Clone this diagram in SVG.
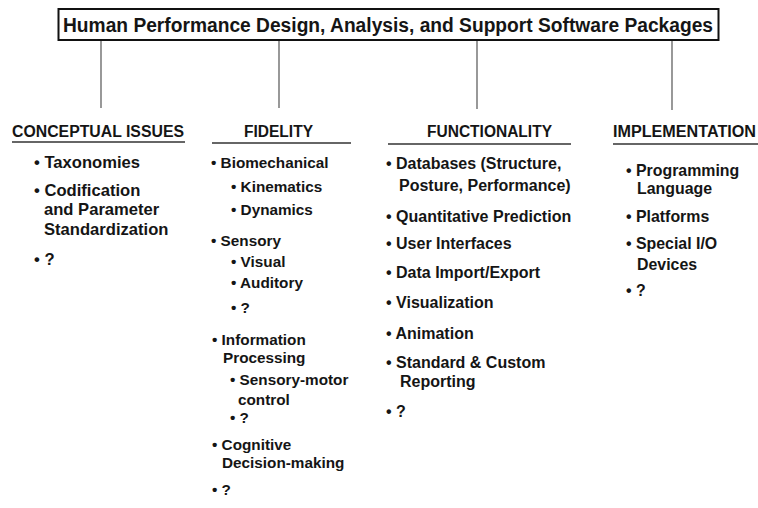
<svg xmlns="http://www.w3.org/2000/svg" width="758" height="508" viewBox="0 0 758 508">
<style>
text{font-family:"Liberation Sans",Arial,Helvetica,sans-serif;font-weight:bold;fill:#151515}
.t{font-size:19.5px}
.h{font-size:15.8px}
.i{font-size:15.5px}
#conceptual .i{font-size:16.6px}
#fidelity .i{font-size:15.3px}
#functionality .i{font-size:16px}
#implementation .i{font-size:15.9px}
.ul{stroke:#333;stroke-width:1.4}
.c{stroke:#444;stroke-width:1.1;fill:none}
</style>
<rect width="758" height="508" fill="#fff"/>
<g id="connectors">
<line class="c" x1="101" y1="40" x2="101" y2="108"/>
<line class="c" x1="279" y1="40" x2="279" y2="108"/>
<line class="c" x1="477" y1="40" x2="477" y2="109"/>
<line class="c" x1="672" y1="40" x2="672" y2="110"/>
</g>
<g id="title">
<rect x="58.5" y="9" width="660" height="31" fill="none" stroke="#111" stroke-width="2"/>
<text class="t" x="63" y="32" textLength="650" lengthAdjust="spacingAndGlyphs">Human Performance Design, Analysis, and Support Software Packages</text>
</g>
<g id="conceptual">
<text class="h" x="12" y="137" textLength="172" lengthAdjust="spacingAndGlyphs">CONCEPTUAL ISSUES</text>
<line class="ul" x1="12" y1="142" x2="185" y2="142"/>
<text class="i" x="34" y="168">• Taxonomies</text>
<text class="i" x="34" y="196">• Codification</text>
<text class="i" x="44" y="215">and Parameter</text>
<text class="i" x="44" y="235">Standardization</text>
<text class="i" x="34" y="265">• ?</text>
</g>
<g id="fidelity">
<text class="h" x="244" y="137" textLength="69" lengthAdjust="spacingAndGlyphs">FIDELITY</text>
<line class="ul" x1="212" y1="143" x2="351" y2="143"/>
<text class="i" x="211" y="168">• Biomechanical</text>
<text class="i" x="231" y="192">• Kinematics</text>
<text class="i" x="231" y="215">• Dynamics</text>
<text class="i" x="211" y="246">• Sensory</text>
<text class="i" x="231" y="267">• Visual</text>
<text class="i" x="231" y="288">• Auditory</text>
<text class="i" x="231" y="313">• ?</text>
<text class="i" x="212" y="345">• Information</text>
<text class="i" x="223" y="363">Processing</text>
<text class="i" x="230" y="385">• Sensory-motor</text>
<text class="i" x="238" y="405">control</text>
<text class="i" x="230" y="423">• ?</text>
<text class="i" x="212" y="450">• Cognitive</text>
<text class="i" x="222" y="468">Decision-making</text>
<text class="i" x="212" y="495">• ?</text>
</g>
<g id="functionality">
<text class="h" x="427" y="137" textLength="125" lengthAdjust="spacingAndGlyphs">FUNCTIONALITY</text>
<line class="ul" x1="388" y1="144" x2="571" y2="144"/>
<text class="i" x="386" y="169">• Databases (Structure,</text>
<text class="i" x="399" y="191">Posture, Performance)</text>
<text class="i" x="386" y="222">• Quantitative Prediction</text>
<text class="i" x="386" y="249">• User  Interfaces</text>
<text class="i" x="386" y="278">• Data Import/Export</text>
<text class="i" x="386" y="308">• Visualization</text>
<text class="i" x="386" y="339">• Animation</text>
<text class="i" x="386" y="368">• Standard &amp; Custom</text>
<text class="i" x="400" y="387">Reporting</text>
<text class="i" x="386" y="417">• ?</text>
</g>
<g id="implementation">
<text class="h" x="613" y="137" textLength="143" lengthAdjust="spacingAndGlyphs">IMPLEMENTATION</text>
<line class="ul" x1="613" y1="144" x2="758" y2="144"/>
<text class="i" x="626" y="176">• Programming</text>
<text class="i" x="637" y="194">Language</text>
<text class="i" x="626" y="222">• Platforms</text>
<text class="i" x="626" y="249">• Special I/O</text>
<text class="i" x="637" y="270">Devices</text>
<text class="i" x="626" y="296">• ?</text>
</g>
</svg>
